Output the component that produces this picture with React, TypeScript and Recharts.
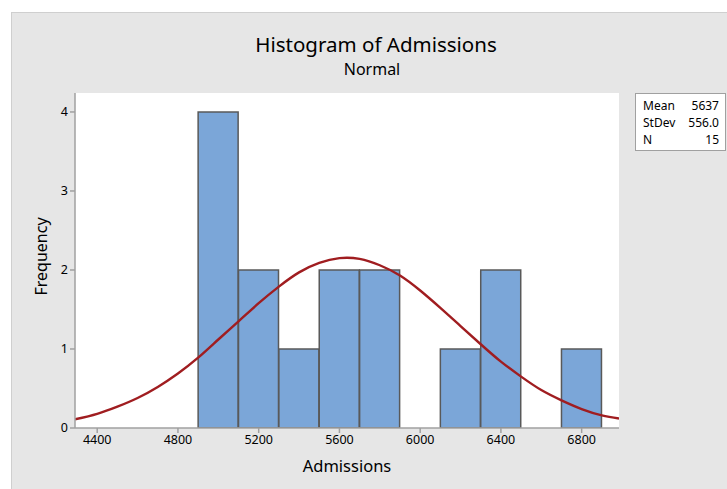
import { ComposedChart, Bar, Line, XAxis, YAxis, CartesianGrid } from 'recharts';

// bin centres (width 200) and counts
const binCenters = [5000, 5200, 5400, 5600, 5800, 6000, 6200, 6400, 6600, 6800];
const binCounts = [4, 2, 1, 2, 2, 0, 1, 2, 0, 1];

// fitted normal curve
const curveX = [4290, 4400, 4500, 4600, 4700, 4800, 4900, 5000, 5100, 5200, 5300, 5400, 5500, 5600, 5700, 5800, 5900, 6000, 6100, 6200, 6300, 6400, 6500, 6600, 6700, 6800, 6900, 6985];
const curveY = [0.11, 0.18, 0.27, 0.38, 0.52, 0.69, 0.89, 1.12, 1.35, 1.58, 1.79, 1.97, 2.09, 2.15, 2.14, 2.06, 1.93, 1.74, 1.52, 1.29, 1.06, 0.84, 0.65, 0.48, 0.35, 0.24, 0.16, 0.12];

const xDomain = [4290, 6985];
const xTicks = [4400, 4800, 5200, 5600, 6000, 6400, 6800];
const yTicks = [0, 1, 2, 3, 4];

const stats = [
  { label: 'Mean', value: '5637' },
  { label: 'StDev', value: '556.0' },
  { label: 'N', value: '15' },
];

const bins = binCenters.map((x, i) => ({ x, count: binCounts[i] }));
const curve = curveX.map((x, i) => ({ x, fit: curveY[i] }));

const font = '"Noto Sans", "Open Sans", sans-serif';
const axisGray = '#a0a0a0';

export default function App() {
  return (
    <div style={{ position: 'absolute', left: 0, top: 0, width: 727, height: 489, background: '#fff', fontFamily: font }}>
      <div style={{ position: 'absolute', left: 11, top: 12, width: 716, height: 477, background: '#e6e6e6', borderLeft: '1px solid #cfcfcf', borderTop: '1px solid #cfcfcf', boxSizing: 'border-box' }} />
      <div style={{ position: 'absolute', left: 0, width: 752, top: 30, textAlign: 'center', fontSize: 20.5, color: '#000' }}>
        Histogram of Admissions
      </div>
      <div style={{ position: 'absolute', left: 0, width: 744, top: 58, textAlign: 'center', fontSize: 16, color: '#000' }}>
        Normal
      </div>
      <div style={{ position: 'absolute', left: 0, top: 0 }}>
        <ComposedChart width={727} height={489} data={bins} margin={{ top: 93, right: 108, bottom: 31, left: 45 }} barCategoryGap={0} barGap={0}>
          <CartesianGrid xAxisId="b" yAxisId="l" horizontal={false} vertical={false} fill="#fff" />
          <XAxis
            xAxisId="b"
            dataKey="x"
            type="number"
            domain={xDomain}
            ticks={xTicks}
            allowDataOverflow
            height={30}
            tickSize={5}
            stroke={axisGray}
            strokeWidth={1.5}
            tick={{ fill: '#000', fontSize: 12.5, fontFamily: font }}
            label={{ value: 'Admissions', position: 'insideBottom', offset: -14, fill: '#000', fontSize: 16.5, fontFamily: font }}
          />
          {/* top frame line; the fitted curve is plotted against it */}
          <XAxis xAxisId="t" orientation="top" dataKey="x" type="number" domain={xDomain} allowDataOverflow height={0} tick={false} tickLine={false} stroke={axisGray} strokeWidth={1.5} />
          <YAxis
            yAxisId="l"
            type="number"
            domain={[0, 4.24]}
            ticks={yTicks}
            allowDataOverflow
            width={30}
            tickSize={5}
            stroke={axisGray}
            strokeWidth={1.5}
            tick={{ fill: '#000', fontSize: 12.5, fontFamily: font }}
            label={{ value: 'Frequency', angle: -90, position: 'insideLeft', offset: -4, dy: 35, fill: '#000', fontSize: 16, fontFamily: font }}
          />
          <YAxis yAxisId="r" orientation="right" type="number" domain={[0, 4.24]} allowDataOverflow width={0} tick={false} tickLine={false} stroke={axisGray} strokeWidth={1.5} />
          <Bar dataKey="count" xAxisId="b" yAxisId="l" fill="#7ba6d8" stroke="#595959" strokeWidth={1.5} isAnimationActive={false} />
          <Line data={curve} dataKey="fit" xAxisId="t" yAxisId="l" type="natural" stroke="#a01d20" strokeWidth={2.4} dot={false} isAnimationActive={false} />
        </ComposedChart>
      </div>
      <div style={{ position: 'absolute', left: 635, top: 93, width: 91, height: 58, background: '#fff', border: '1px solid ' + axisGray, boxSizing: 'border-box', padding: '3px 6px 0 7px', fontSize: 12, color: '#000', lineHeight: '17px' }}>
        {stats.map((s) => (
          <div key={s.label} style={{ display: 'flex', justifyContent: 'space-between' }}>
            <span>{s.label}</span>
            <span>{s.value}</span>
          </div>
        ))}
      </div>
    </div>
  );
}
